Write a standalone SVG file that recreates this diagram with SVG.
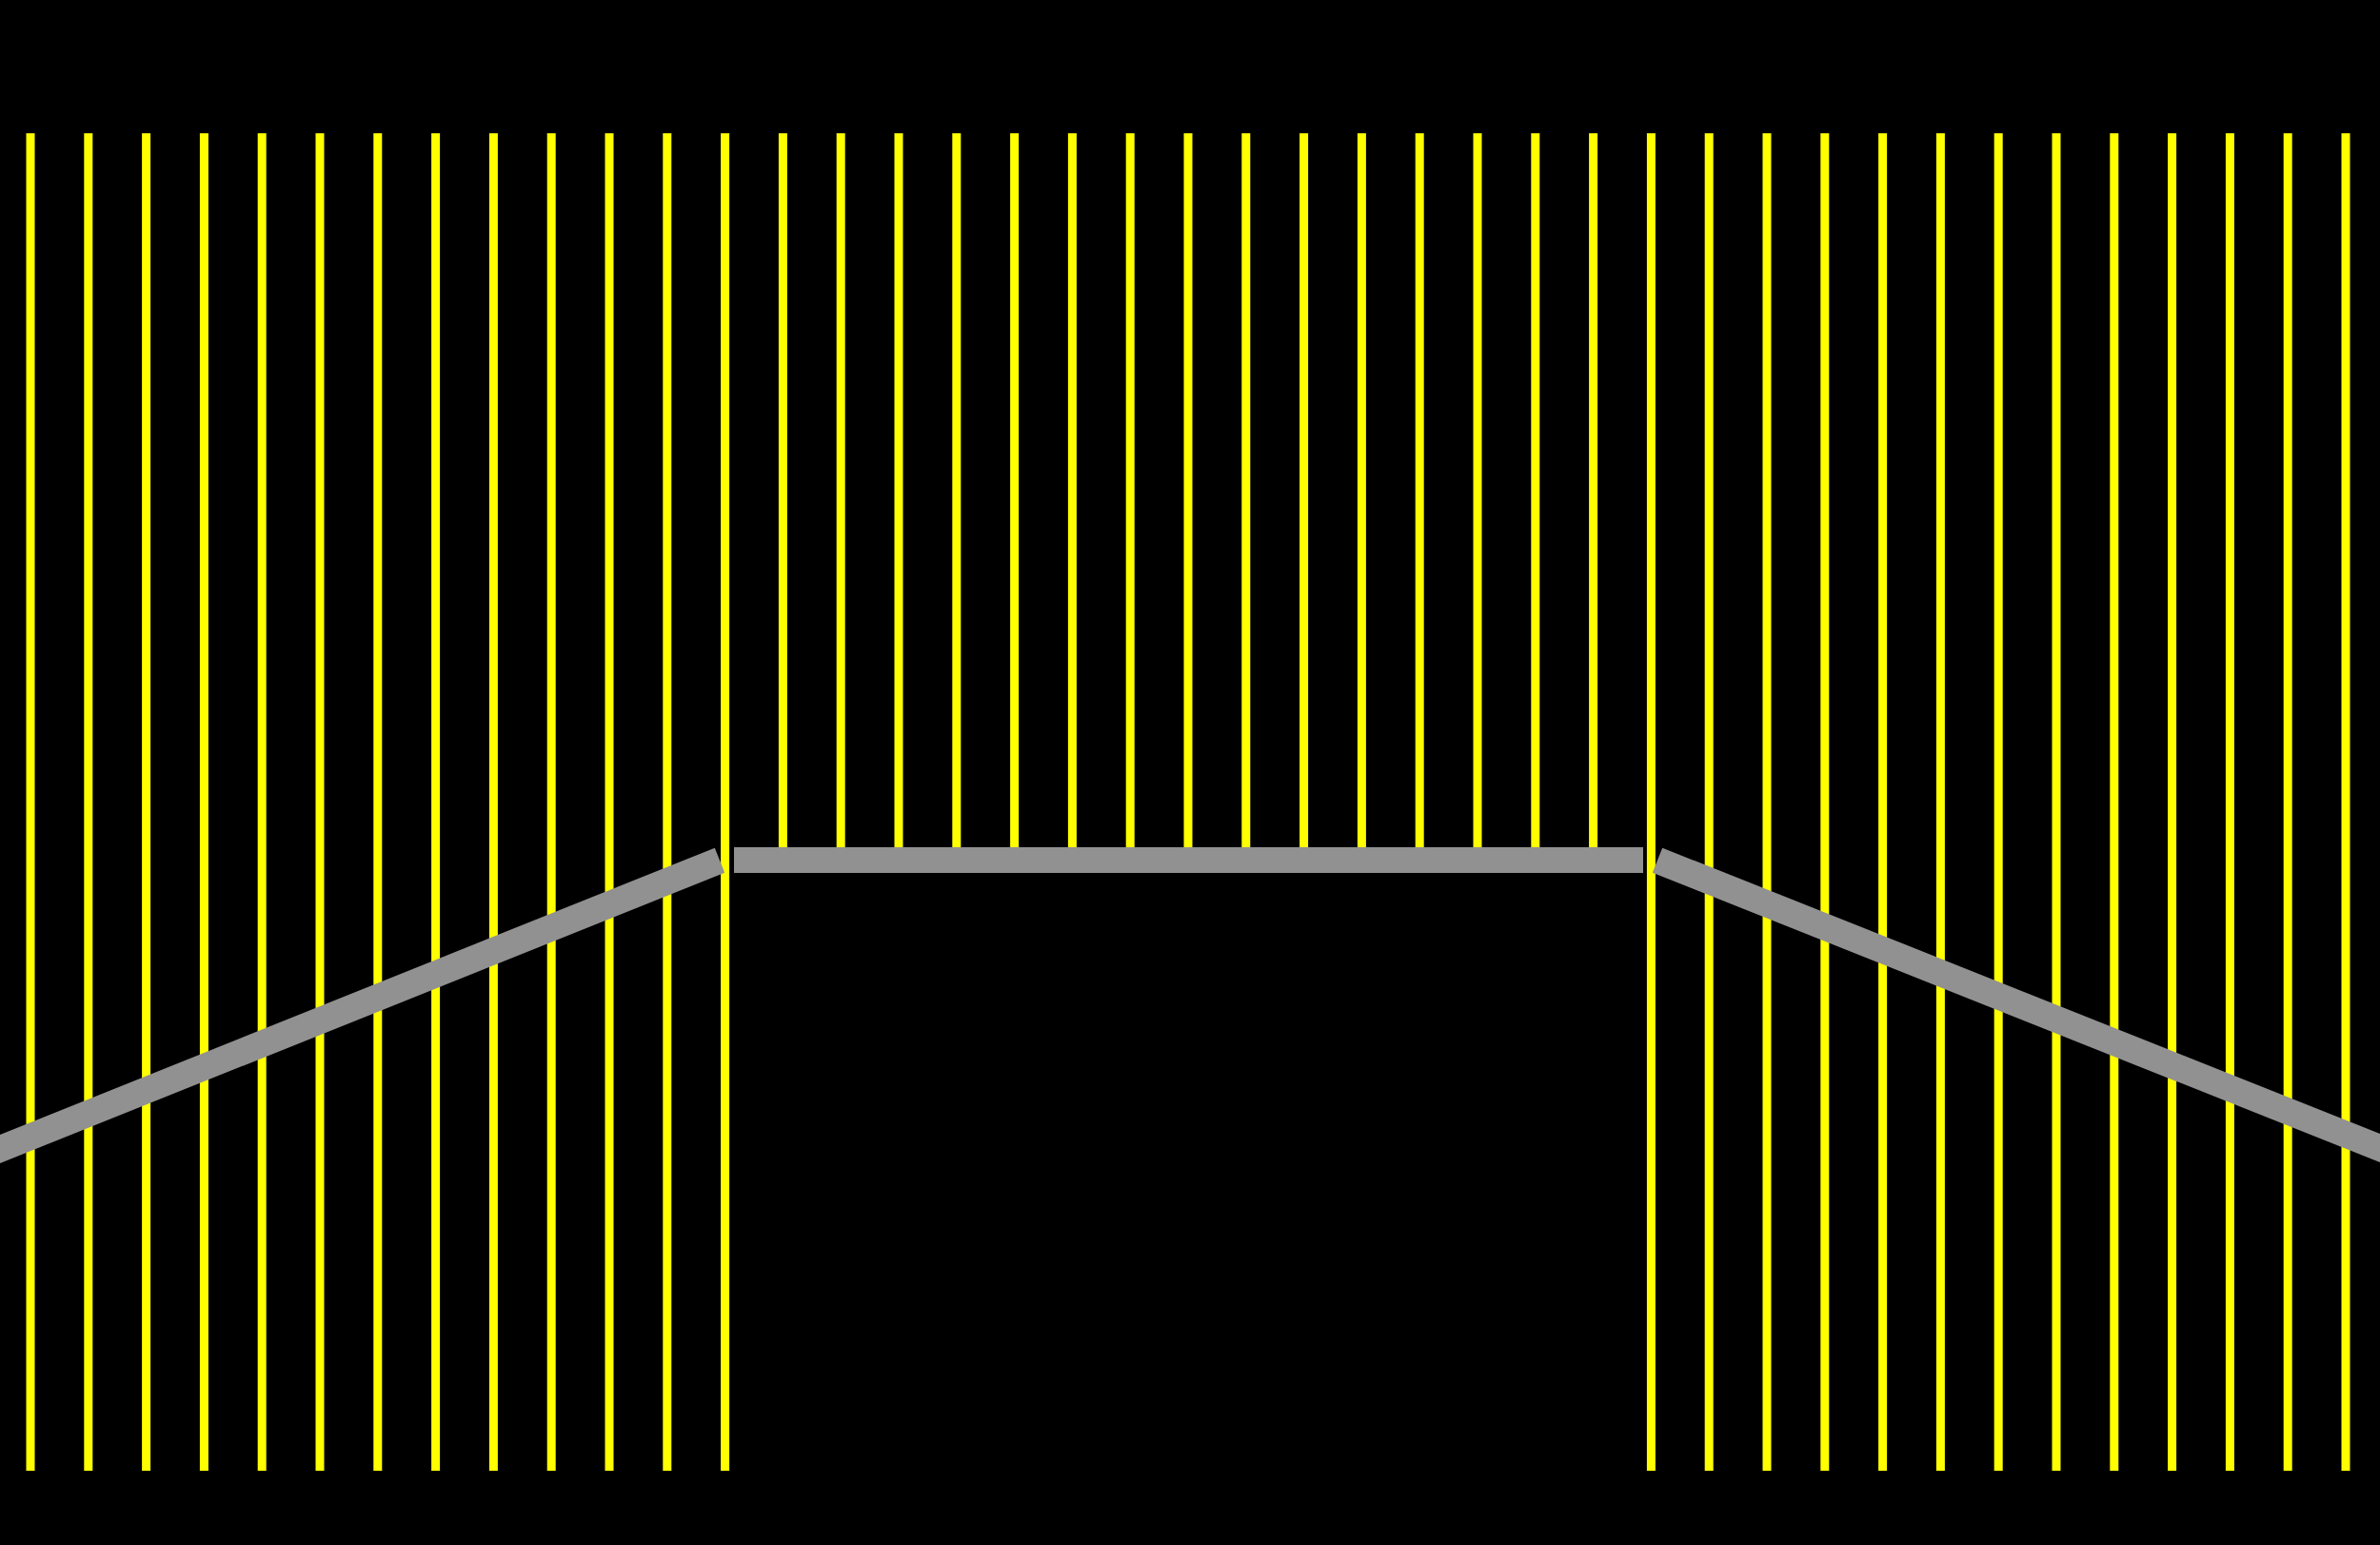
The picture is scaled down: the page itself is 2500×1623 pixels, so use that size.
<svg xmlns="http://www.w3.org/2000/svg" width="2500" height="1623" viewBox="0 0 2500 1623">
<style>
.y{stroke:#ffff00;stroke-width:9;fill:none}
.g{stroke:#919191;fill:none;stroke-linecap:butt}
</style>
<rect width="2500" height="1623" fill="#000"/>
<g id="yellow-lines">
<line class="y" x1="32" y1="140" x2="32" y2="1545"/>
<line class="y" x1="92.8" y1="140" x2="92.8" y2="1545"/>
<line class="y" x1="153.6" y1="140" x2="153.6" y2="1545"/>
<line class="y" x1="214.4" y1="140" x2="214.4" y2="1545"/>
<line class="y" x1="275.2" y1="140" x2="275.2" y2="1545"/>
<line class="y" x1="336" y1="140" x2="336" y2="1545"/>
<line class="y" x1="396.8" y1="140" x2="396.8" y2="1545"/>
<line class="y" x1="457.6" y1="140" x2="457.6" y2="1545"/>
<line class="y" x1="518.4" y1="140" x2="518.4" y2="1545"/>
<line class="y" x1="579.2" y1="140" x2="579.2" y2="1545"/>
<line class="y" x1="640" y1="140" x2="640" y2="1545"/>
<line class="y" x1="700.8" y1="140" x2="700.8" y2="1545"/>
<line class="y" x1="761.6" y1="140" x2="761.6" y2="1545"/>
<line class="y" x1="822.4" y1="140" x2="822.4" y2="890"/>
<line class="y" x1="883.2" y1="140" x2="883.2" y2="890"/>
<line class="y" x1="944" y1="140" x2="944" y2="890"/>
<line class="y" x1="1004.8" y1="140" x2="1004.8" y2="890"/>
<line class="y" x1="1065.6" y1="140" x2="1065.6" y2="890"/>
<line class="y" x1="1126.4" y1="140" x2="1126.4" y2="890"/>
<line class="y" x1="1187.2" y1="140" x2="1187.2" y2="890"/>
<line class="y" x1="1248" y1="140" x2="1248" y2="890"/>
<line class="y" x1="1308.8" y1="140" x2="1308.8" y2="890"/>
<line class="y" x1="1369.6" y1="140" x2="1369.6" y2="890"/>
<line class="y" x1="1430.4" y1="140" x2="1430.4" y2="890"/>
<line class="y" x1="1491.2" y1="140" x2="1491.2" y2="890"/>
<line class="y" x1="1552" y1="140" x2="1552" y2="890"/>
<line class="y" x1="1612.8" y1="140" x2="1612.8" y2="890"/>
<line class="y" x1="1673.6" y1="140" x2="1673.6" y2="890"/>
<line class="y" x1="1734.4" y1="140" x2="1734.4" y2="1545"/>
<line class="y" x1="1795.2" y1="140" x2="1795.2" y2="1545"/>
<line class="y" x1="1856" y1="140" x2="1856" y2="1545"/>
<line class="y" x1="1916.8" y1="140" x2="1916.8" y2="1545"/>
<line class="y" x1="1977.6" y1="140" x2="1977.6" y2="1545"/>
<line class="y" x1="2038.4" y1="140" x2="2038.4" y2="1545"/>
<line class="y" x1="2099.2" y1="140" x2="2099.2" y2="1545"/>
<line class="y" x1="2160" y1="140" x2="2160" y2="1545"/>
<line class="y" x1="2220.8" y1="140" x2="2220.8" y2="1545"/>
<line class="y" x1="2281.6" y1="140" x2="2281.6" y2="1545"/>
<line class="y" x1="2342.4" y1="140" x2="2342.4" y2="1545"/>
<line class="y" x1="2403.2" y1="140" x2="2403.2" y2="1545"/>
<line class="y" x1="2464" y1="140" x2="2464" y2="1545"/>
</g>
<g id="gray-bars">
<line class="g" stroke-width="28" x1="-20" y1="1215" x2="756" y2="903.7"/>
<line class="g" stroke-width="27" x1="771" y1="903.5" x2="1726" y2="903.5"/>
<line class="g" stroke-width="28" x1="1741" y1="903.7" x2="2520" y2="1214"/>
</g>
</svg>
